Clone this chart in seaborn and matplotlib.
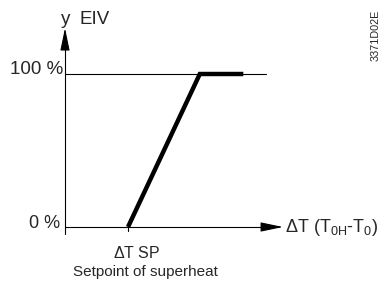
import matplotlib
matplotlib.use("Agg")
import matplotlib.pyplot as plt
import seaborn as sns
import pandas as pd

sns.set_theme(style="white")
plt.rcParams['font.family'] = ['Liberation Sans', 'DejaVu Sans']
plt.rcParams['mathtext.fontset'] = 'custom'
plt.rcParams['mathtext.rm'] = 'Liberation Sans'
plt.rcParams['mathtext.it'] = 'Liberation Sans'

# Characteristic: valve opening (%) vs superheat (arbitrary units, origin = 0)
dT = [1.0, 2.14, 2.83]          # setpoint, full-open point, end
opening = [0, 100, 100]
y_ticks = [0, 100]
y_tick_labels = ["0 %", "100 %"]
x_axis_end = 3.46
y_axis_end = 130
ref_line_end = 3.19
setpoint = 1.0

df = pd.DataFrame({"dT": dT, "opening": opening})

W, H = 383, 281
fig = plt.figure(figsize=(W / 100, H / 100), dpi=100)
ax = fig.add_axes([0, 0, 1, 1])
ax.set_axis_off()

# pixel mapping: origin at (65,227), 63 px per x unit, 1.53 px per %
ox, oy, sx, sy = 65, 227, 63.0, 1.53
ax.set_xlim((0 - ox) / sx, (W - ox) / sx)
ax.set_ylim((oy - H) / sy, oy / sy)

def px(x, y):
    return (x - ox) / sx, (oy - y) / sy

# thin reference line at 100 %
ax.plot([0, ref_line_end], [100, 100], color="black", lw=0.8)

# axes with arrows
ax.plot([0, 0], [px(0, 234)[1], y_axis_end - 8], color="black", lw=0.8)
ax.plot([0, x_axis_end - 0.2], [0, 0], color="black", lw=0.8)
ax.annotate("", xy=(0, y_axis_end), xytext=(0, y_axis_end - 11),
            arrowprops=dict(arrowstyle="-|>,head_length=1.15,head_width=0.24",
                            color="black", lw=0.8, shrinkA=0, shrinkB=0))
ax.annotate("", xy=(x_axis_end, 0), xytext=(x_axis_end - 0.25, 0),
            arrowprops=dict(arrowstyle="-|>,head_length=1.15,head_width=0.24",
                            color="black", lw=0.8, shrinkA=0, shrinkB=0))

# setpoint tick
ax.plot([setpoint, setpoint], [0, px(0, 231)[1]], color="black", lw=0.8)

# characteristic
sns.lineplot(data=df, x="dT", y="opening", ax=ax, color="black", lw=3.2,
             solid_capstyle="butt", solid_joinstyle="miter", sort=False)

# y labels
ax.text(px(63, 0)[0], px(0, 69)[1], y_tick_labels[1], ha="right", va="center",
        fontsize=13.5)
ax.text(px(60, 0)[0], px(0, 223)[1], y_tick_labels[0], ha="right", va="center",
        fontsize=13)

ax.text(*px(61, 19), "y", ha="left", va="center", fontsize=13.5)
ax.text(*px(79, 20), "EIV", ha="left", va="center", fontsize=13.5)

ax.text(*px(285, 228), r"$\Delta$T (T$_{\mathrm{0H}}$-T$_{\mathrm{0}}$)",
        ha="left", va="center", fontsize=13)
ax.text(px(137, 0)[0], px(0, 253)[1], r"$\Delta$T SP", ha="center", va="center",
        fontsize=11.5)
ax.text(*px(145, 272), "Setpoint of superheat", ha="center", va="center",
        fontsize=11)
ax.text(*px(376, 35), "3371D02E", ha="center", va="center", fontsize=7.8,
        rotation=90)

fig.savefig("out.png", dpi=100)
